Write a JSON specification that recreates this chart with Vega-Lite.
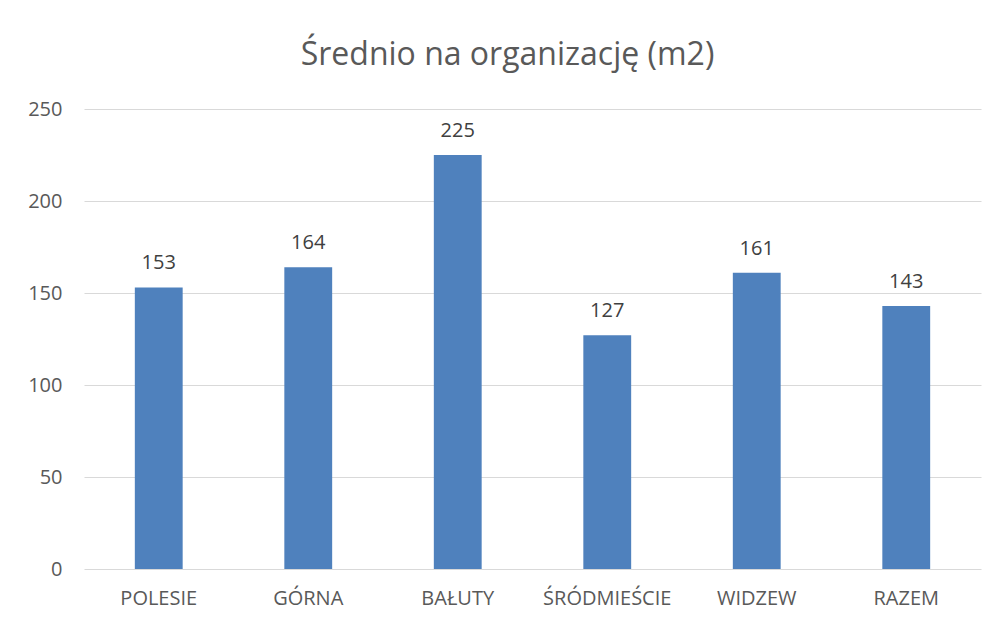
{
  "$schema": "https://vega.github.io/schema/vega-lite/v6.json",
  "width": 897,
  "height": 460,
  "autosize": {"type": "none"},
  "padding": {"left": 84, "top": 109, "right": 12, "bottom": 54},
  "background": "white",
  "title": {
    "text": "Średnio na organizację (m2)",
    "font": "Open Sans",
    "fontSize": 32,
    "fontWeight": "normal",
    "color": "#595959",
    "anchor": "middle",
    "dx": -25,
    "offset": 27
  },
  "data": {
    "values": [
      {"dzielnica": "POLESIE", "wartosc": 153},
      {"dzielnica": "GÓRNA", "wartosc": 164},
      {"dzielnica": "BAŁUTY", "wartosc": 225},
      {"dzielnica": "ŚRÓDMIEŚCIE", "wartosc": 127},
      {"dzielnica": "WIDZEW", "wartosc": 161},
      {"dzielnica": "RAZEM", "wartosc": 143}
    ]
  },
  "encoding": {
    "x": {
      "field": "dzielnica",
      "type": "nominal",
      "sort": null,
      "scale": {"paddingInner": 0.68, "paddingOuter": 0.34},
      "axis": {
        "title": null,
        "labelAngle": 0,
        "labelFont": "Open Sans",
        "labelFontSize": 20,
        "labelColor": "#595959",
        "labelPadding": 19,
        "ticks": false,
        "domain": false
      }
    },
    "y": {
      "field": "wartosc",
      "type": "quantitative",
      "scale": {"domain": [0, 250]},
      "axis": {
        "title": null,
        "values": [0, 50, 100, 150, 200, 250],
        "labelFont": "Open Sans",
        "labelFontSize": 20,
        "labelColor": "#595959",
        "labelPadding": 22,
        "ticks": false,
        "domain": false,
        "grid": true,
        "gridColor": "#D9D9D9",
        "gridWidth": 1
      }
    }
  },
  "layer": [
    {"mark": {"type": "bar", "color": "#4F81BD"}},
    {
      "mark": {
        "type": "text",
        "baseline": "bottom",
        "dy": -14,
        "font": "Open Sans",
        "fontSize": 20,
        "color": "#404040"
      },
      "encoding": {"text": {"field": "wartosc", "type": "quantitative"}}
    }
  ],
  "config": {"view": {"stroke": null}}
}
